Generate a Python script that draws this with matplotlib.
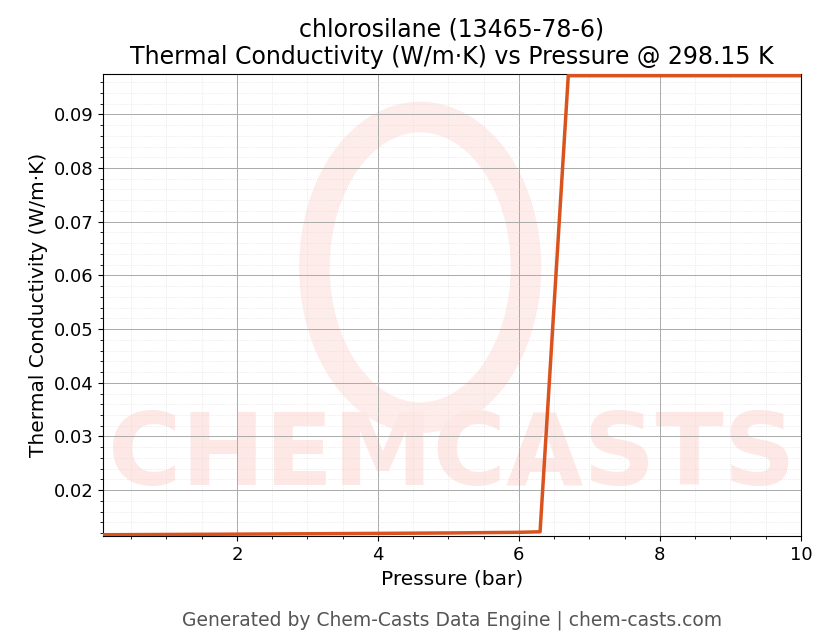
import matplotlib
matplotlib.use("Agg")
import matplotlib.pyplot as plt
from matplotlib.ticker import AutoMinorLocator
from matplotlib.patches import Ellipse

pressure = [0.1, 1.0, 2.0, 3.0, 4.0, 5.0, 6.0, 6.3, 6.7, 7.0, 8.0, 9.0, 10.0]
conductivity = [0.01170, 0.01175, 0.01181, 0.01188, 0.01195, 0.01203, 0.01215, 0.01225, 0.09720, 0.09720, 0.09720, 0.09720, 0.09720]

fig = plt.figure(figsize=(8.3, 6.44), dpi=100)
ax = fig.add_axes([0.124, 0.168, 0.841, 0.717])

ax.text(0.5, 0.17, "CHEMCASTS", transform=ax.transAxes, ha="center", va="center", fontsize=72,
        fontweight="bold", color="#fde3e0", alpha=0.8, zorder=0)
ax.add_patch(Ellipse((4.6, 0.0615), 3.0, 0.056, fill=False, lw=22, ec="#fde8e5", alpha=0.8, zorder=0))

ax.plot(pressure, conductivity, color="#d9531e", lw=2.5, zorder=3)
ax.set_xlim(0.1, 10)
ax.set_ylim(0.0115, 0.0975)
ax.set_xticks([2, 4, 6, 8, 10])
ax.set_yticks([0.02, 0.03, 0.04, 0.05, 0.06, 0.07, 0.08, 0.09])
ax.xaxis.set_minor_locator(AutoMinorLocator(4))
ax.yaxis.set_minor_locator(AutoMinorLocator(5))
ax.grid(which="major", color="#aaaaaa", lw=0.7)
ax.grid(which="minor", color="#dddddd", lw=0.5, ls=":")
ax.tick_params(labelsize=13)
ax.set_xlabel("Pressure (bar)", fontsize=14.5)
ax.set_ylabel("Thermal Conductivity (W/m·K)", fontsize=14.5)
ax.set_title("chlorosilane (13465-78-6)\nThermal Conductivity (W/m·K) vs Pressure @ 298.15 K", fontsize=17, pad=7)
fig.text(0.545, 0.028, "Generated by Chem-Casts Data Engine | chem-casts.com", ha="center",
         fontsize=13.5, color="#555555")
fig.savefig("out.png", dpi=100)
